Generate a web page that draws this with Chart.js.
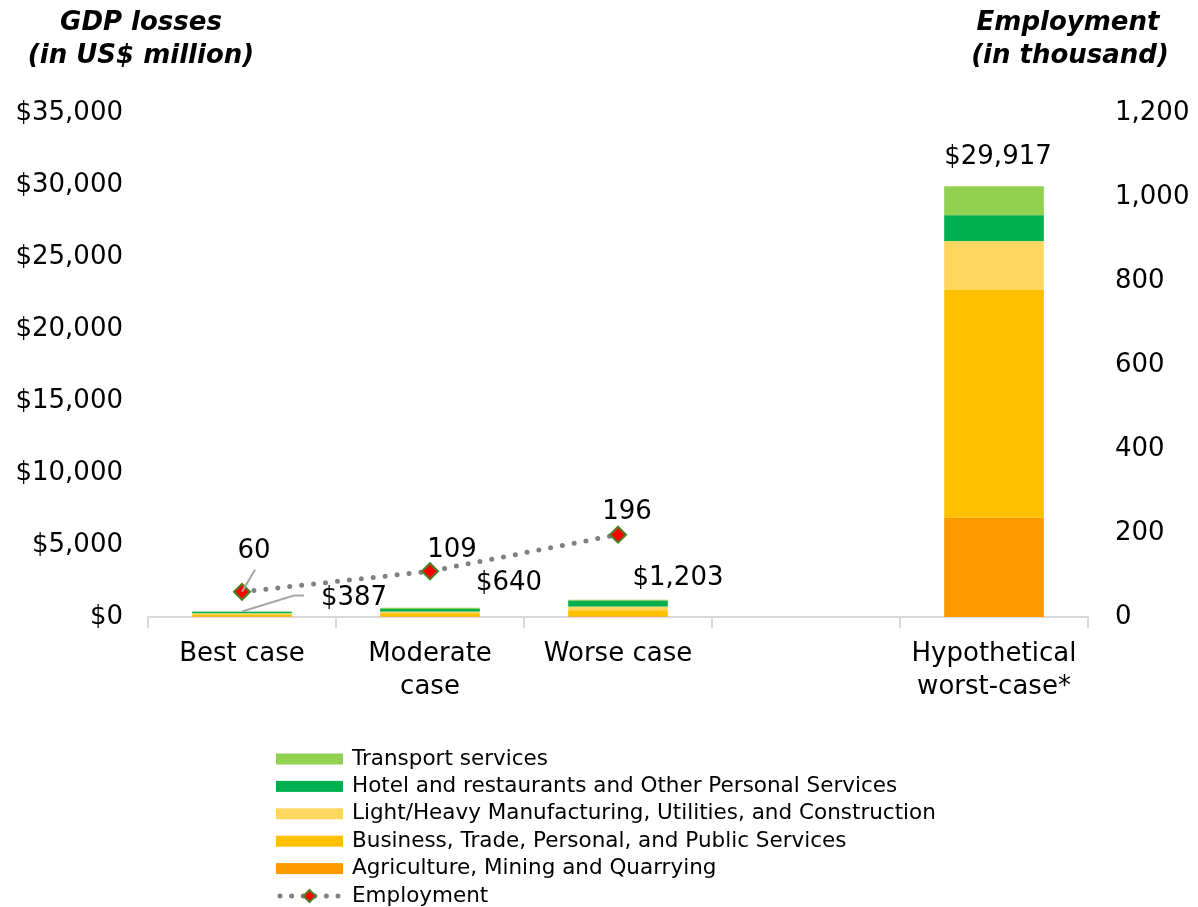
<!DOCTYPE html>
<html lang="en">
<head>
    <meta charset="UTF-8">
    <title>GDP losses and employment</title>
    <script src="https://cdn.jsdelivr.net/npm/chart.js"></script>
    <style>
        html, body { margin: 0; padding: 0; background: #fff; }
        #wrap { width: 1198px; height: 907px; position: relative; }
    </style>
</head>
<body>
<div id="wrap"><canvas id="chart"></canvas></div>

<script>
    // scenario categories (blank slot keeps the gap before the last bar)
    const categories = ["Best case", ["Moderate", "case"], "Worse case", "", ["Hypothetical", "worst-case*"]];

    // GDP losses by sector, US$ million
    const agriculture = [20, 20, 30, null, 6900];
    const business = [150, 236, 437, null, 15800];
    const manufacturing = [80, 102, 245, null, 3400];
    const hotels = [110, 205, 417, null, 1800];
    const transport = [27, 77, 74, null, 2017];
    const totals = [387, 640, 1203, null, 29917];

    // employment, thousand
    const employment = [60, 109, 196, null, null];

    const leftTicks = [0, 5000, 10000, 15000, 20000, 25000, 30000, 35000];
    const rightTicks = [0, 200, 400, 600, 800, 1000, 1200];

    const FONT = "'DejaVu Sans', Verdana, sans-serif";

    function money(v) {
        return "$" + v.toLocaleString("en-US");
    }

    // where the value labels sit, relative to bar top / marker
    const totalOffsets = [[112, -13], [79, -25], [60, -21], null, [4, -29]];
    const empOffsets = [[12, -41], [22, -21], [9, -22]];

    const labelPlugin = {
        id: "labels",
        afterDatasetsDraw(chart) {
            const ctx = chart.ctx;
            const topMeta = chart.getDatasetMeta(4);
            const lineMeta = chart.getDatasetMeta(5);
            ctx.save();
            ctx.font = "26px " + FONT;
            ctx.fillStyle = "#000";
            ctx.textAlign = "center";
            ctx.textBaseline = "middle";

            // leader lines
            ctx.strokeStyle = "#a6a6a6";
            ctx.lineWidth = 2;
            const b0 = topMeta.data[0];
            ctx.beginPath();
            ctx.moveTo(b0.x, b0.y);
            ctx.lineTo(b0.x + 52, b0.y - 16);
            ctx.lineTo(b0.x + 62, b0.y - 16);
            ctx.stroke();
            const p0 = lineMeta.data[0];
            ctx.beginPath();
            ctx.moveTo(p0.x + 13, p0.y - 22);
            ctx.lineTo(p0.x, p0.y);
            ctx.stroke();

            totals.forEach((t, i) => {
                if (t === null) return;
                const el = topMeta.data[i];
                const o = totalOffsets[i];
                ctx.fillText(money(t), el.x + o[0], el.y + o[1]);
            });
            employment.forEach((v, i) => {
                if (v === null) return;
                const el = lineMeta.data[i];
                const o = empOffsets[i];
                ctx.fillText(String(v), el.x + o[0], el.y + o[1]);
            });

            // axis titles
            ctx.font = "italic bold 26px " + FONT;
            ctx.fillText("GDP losses", 141, 23);
            ctx.fillText("(in US$ million)", 141, 56);
            ctx.fillText("Employment", 1068, 23);
            ctx.fillText("(in thousand)", 1070, 56);
            ctx.restore();
        },
        afterDraw(chart) {
            // vertical legend under the plot
            const ctx = chart.ctx;
            const sets = chart.data.datasets;
            const order = [4, 3, 2, 1, 0, 5];
            const x0 = 276, boxW = 67, y0 = 759, step = 27.4;
            ctx.save();
            ctx.font = "21.5px " + FONT;
            ctx.textBaseline = "middle";
            ctx.textAlign = "left";
            order.forEach((di, row) => {
                const ds = sets[di];
                const y = y0 + row * step;
                if (ds.type === "line") {
                    ctx.fillStyle = ds.borderColor;
                    for (let k = 0; k < 6; k++) {
                        ctx.beginPath();
                        ctx.arc(x0 + 4 + k * 11.6, y, 2.5, 0, Math.PI * 2);
                        ctx.fill();
                    }
                    const cx = x0 + boxW / 2, r = 6;
                    ctx.beginPath();
                    ctx.moveTo(cx, y - r);
                    ctx.lineTo(cx + r, y);
                    ctx.lineTo(cx, y + r);
                    ctx.lineTo(cx - r, y);
                    ctx.closePath();
                    ctx.fillStyle = ds.pointBackgroundColor;
                    ctx.fill();
                    ctx.strokeStyle = ds.pointBorderColor;
                    ctx.lineWidth = 2;
                    ctx.stroke();
                } else {
                    ctx.fillStyle = ds.backgroundColor;
                    ctx.fillRect(x0, y - 5.5, boxW, 11);
                }
                ctx.fillStyle = "#000";
                ctx.fillText(ds.label, x0 + 76, y);
            });
            ctx.restore();
        }
    };

    const barCommon = {
        type: "bar",
        yAxisID: "y",
        stack: "gdp",
        barPercentage: 0.53,
        categoryPercentage: 1,
        borderWidth: 0,
        order: 1
    };

    new Chart(document.getElementById("chart"), {
        type: "bar",
        data: {
            labels: categories,
            datasets: [
                Object.assign({ label: "Agriculture, Mining and Quarrying", data: agriculture, backgroundColor: "#FF9900" }, barCommon),
                Object.assign({ label: "Business, Trade, Personal, and Public Services", data: business, backgroundColor: "#FFC000" }, barCommon),
                Object.assign({ label: "Light/Heavy Manufacturing, Utilities, and Construction", data: manufacturing, backgroundColor: "#FFD75E" }, barCommon),
                Object.assign({ label: "Hotel and restaurants and Other Personal Services", data: hotels, backgroundColor: "#00B050" }, barCommon),
                Object.assign({ label: "Transport services", data: transport, backgroundColor: "#92D050" }, barCommon),
                {
                    type: "line",
                    label: "Employment",
                    data: employment,
                    yAxisID: "y1",
                    order: 0,
                    borderColor: "#808080",
                    borderWidth: 5,
                    borderDash: [0, 12],
                    borderCapStyle: "round",
                    fill: false,
                    tension: 0,
                    pointStyle: "rectRot",
                    pointRadius: 8,
                    pointHoverRadius: 8,
                    pointBackgroundColor: "#FF0000",
                    pointBorderColor: "#4F7F24",
                    pointBorderWidth: 2
                }
            ]
        },
        options: {
            responsive: true,
            maintainAspectRatio: false,
            animation: false,
            layout: { padding: { top: 113, left: 0, right: 0, bottom: 0 } },
            plugins: {
                legend: { display: false },
                tooltip: { enabled: false }
            },
            scales: {
                x: {
                    stacked: true,
                    offset: true,
                    afterFit(scale) { scale.height = 290; },
                    grid: {
                        display: true,
                        offset: true,
                        drawOnChartArea: false,
                        drawTicks: true,
                        tickLength: 11,
                        color: "#d9d9d9",
                        lineWidth: 2
                    },
                    border: { display: true, color: "#d9d9d9", width: 2 },
                    ticks: {
                        color: "#000",
                        padding: 10,
                        maxRotation: 0,
                        autoSkip: false,
                        font: { family: FONT, size: 26, lineHeight: 1.25 }
                    }
                },
                y: {
                    position: "left",
                    stacked: true,
                    min: 0,
                    max: 35000,
                    afterFit(scale) { scale.width = 148; },
                    afterBuildTicks(scale) { scale.ticks = leftTicks.map(v => ({ value: v })); },
                    grid: { display: false, drawTicks: false },
                    border: { display: false },
                    ticks: {
                        color: "#000",
                        padding: 25,
                        font: { family: FONT, size: 26 },
                        callback: v => money(v)
                    }
                },
                y1: {
                    position: "right",
                    min: 0,
                    max: 1200,
                    afterFit(scale) { scale.width = 110; },
                    afterBuildTicks(scale) { scale.ticks = rightTicks.map(v => ({ value: v })); },
                    grid: { display: false, drawTicks: false },
                    border: { display: false },
                    ticks: {
                        color: "#000",
                        padding: 27,
                        font: { family: FONT, size: 26 },
                        callback: v => v.toLocaleString("en-US")
                    }
                }
            }
        },
        plugins: [labelPlugin]
    });
</script>
</body>
</html>
